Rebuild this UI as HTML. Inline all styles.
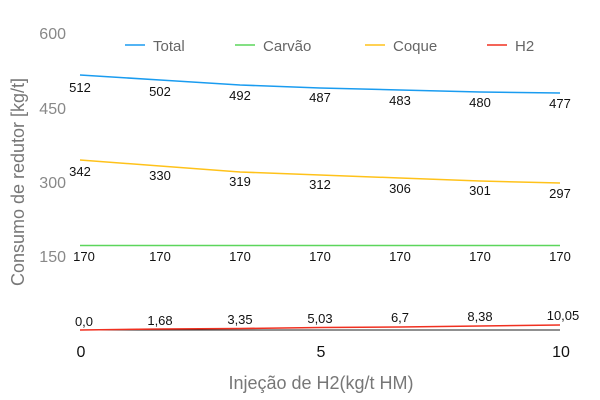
<!DOCTYPE html>
<html><head><meta charset="utf-8"><style>body{margin:0;background:#fff}svg{display:block}</style></head><body>
<svg width="600" height="400" xmlns="http://www.w3.org/2000/svg" font-family="Liberation Sans, sans-serif">
<g fill="#888" font-size="16" text-anchor="end">
<text x="66" y="39">600</text><text x="66" y="114">450</text><text x="66" y="188">300</text><text x="66" y="262">150</text>
</g>
<text transform="translate(24,182) rotate(-90)" text-anchor="middle" font-size="18" fill="#777">Consumo de redutor [kg/t]</text>
<g font-size="15" fill="#666">
<line x1="125" y1="45" x2="145" y2="45" stroke="#1a9cf0" stroke-width="1.5"/><text x="153" y="51">Total</text>
<line x1="235" y1="45" x2="255" y2="45" stroke="#5cd65c" stroke-width="1.5"/><text x="263" y="51">Carvão</text>
<line x1="365" y1="45" x2="385" y2="45" stroke="#ffc21a" stroke-width="1.5"/><text x="393" y="51">Coque</text>
<line x1="487" y1="45" x2="507" y2="45" stroke="#f03020" stroke-width="1.5"/><text x="515" y="51">H2</text>
</g>
<line x1="80" y1="330" x2="560" y2="330" stroke="#222" stroke-width="1"/>
<polyline fill="none" stroke="#1a9cf0" stroke-width="1.5" points="80,75 160,80 240,85 320,88 400,90 480,92 560,93"/>
<polyline fill="none" stroke="#ffc21a" stroke-width="1.5" points="80,160 160,166 240,172 320,175 400,178 480,181 560,183"/>
<line x1="80" y1="245.5" x2="560" y2="245.5" stroke="#5cd65c" stroke-width="1.5"/>
<polyline fill="none" stroke="#f03020" stroke-width="1.5" points="80,330 160,329 240,328.5 320,327.5 400,327 480,326 560,325"/>
<g font-size="13" fill="#111" text-anchor="middle">
<text x="80" y="92">512</text><text x="160" y="96">502</text><text x="240" y="100">492</text><text x="320" y="102">487</text><text x="400" y="105">483</text><text x="480" y="107">480</text><text x="560" y="108">477</text>
<text x="80" y="176">342</text><text x="160" y="180">330</text><text x="240" y="186">319</text><text x="320" y="189">312</text><text x="400" y="193">306</text><text x="480" y="195">301</text><text x="560" y="198">297</text>
<text x="84" y="261">170</text><text x="160" y="261">170</text><text x="240" y="261">170</text><text x="320" y="261">170</text><text x="400" y="261">170</text><text x="480" y="261">170</text><text x="560" y="261">170</text>
<text x="84" y="326">0,0</text><text x="160" y="325">1,68</text><text x="240" y="324">3,35</text><text x="320" y="323">5,03</text><text x="400" y="322">6,7</text><text x="480" y="321">8,38</text><text x="563" y="320">10,05</text>
</g>
<g font-size="16" fill="#111" text-anchor="middle">
<text x="81" y="357">0</text><text x="321" y="357">5</text><text x="561" y="357">10</text>
</g>
<text x="321" y="389" text-anchor="middle" font-size="18" fill="#777">Injeção de H2(kg/t HM)</text>
</svg>
</body></html>
